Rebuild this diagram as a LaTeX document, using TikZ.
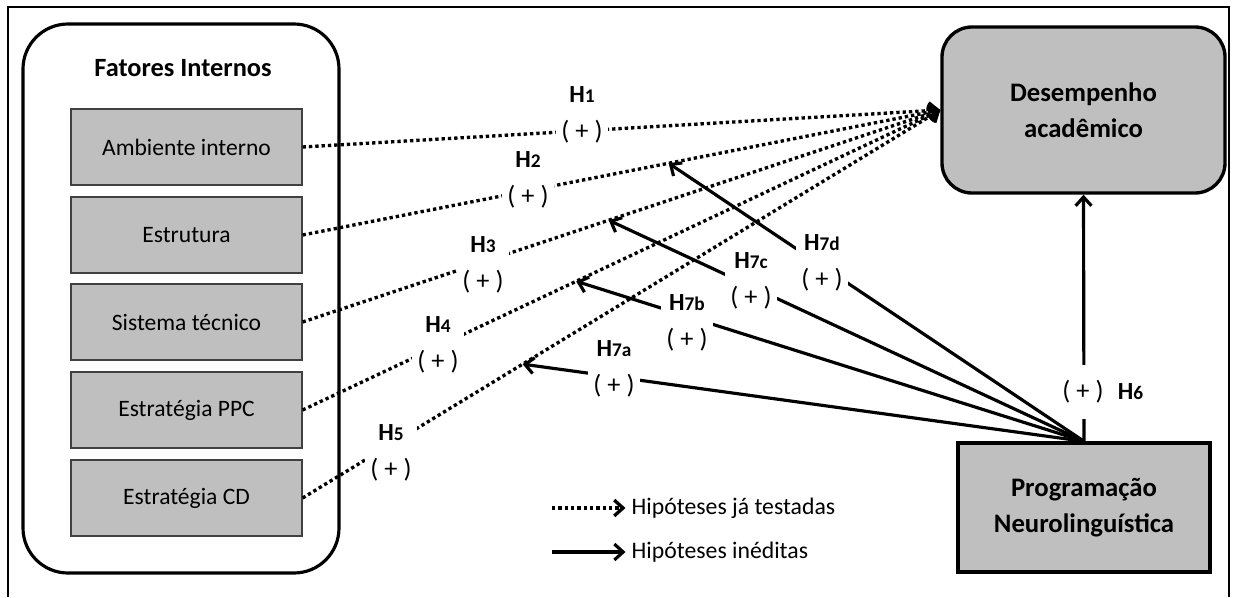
\documentclass[tikz,border=0pt]{standalone}
\usepackage{fontspec}
\setmainfont{Carlito}
\usepackage{tikz}
\usetikzlibrary{positioning,arrows.meta}

\definecolor{boxgray}{RGB}{191,191,191}
\newcommand{\hnum}[1]{\textbf{\fontsize{14}{16}\selectfont H{\fontsize{11}{11}\selectfont #1}}}
\newcommand{\hname}[1]{\hnum{#1}\\[4pt]( + )}

\begin{document}
\begin{tikzpicture}[>={Straight Barb[length=5pt,width=9pt]},
	factor/.style={rectangle,draw=black!75,line width=0.7pt,fill=boxgray,minimum width=4.62cm,minimum height=1.52cm,font=\fontsize{13.4}{15}\selectfont},
	construct/.style={rectangle,draw,line width=1.9pt,fill=boxgray,align=center,font=\bfseries\fontsize{15.2}{20.5}\selectfont},
	oldhyp/.style={->,line width=1.9pt,dash pattern=on 1.9pt off 1.7pt},
	newhyp/.style={->,line width=1.8pt},
	hlabel/.style={fill=white,inner sep=3pt,align=center,font=\fontsize{15}{17}\selectfont}]

	\useasboundingbox (0,0) rectangle (24.68,11.94);
	\draw[line width=0.9pt] (0.16,0) -- (0.16,11.8) -- (24.58,11.8) -- (24.58,0);

	% internal factors
	\node [draw,rounded corners=0.9cm,line width=1.8pt,minimum width=6.32cm,minimum height=10.98cm] (fi) at (3.62,5.97) {};
	\node [font=\bfseries\fontsize{15}{18}\selectfont] (fititle) at (3.66,10.58) {Fatores Internos};
	\node [factor] (f1) at (3.73,9.0) {Ambiente interno};
	\node [factor] (f2) at (3.73,7.24) {Estrutura};
	\node [factor] (f3) at (3.73,5.5) {Sistema técnico};
	\node [factor] (f4) at (3.73,3.74) {Estratégia PPC};
	\node [factor] (f5) at (3.73,1.98) {Estratégia CD};

	\node [construct,rounded corners=0.6cm,minimum width=5.66cm,minimum height=3.32cm] (des) at (21.67,9.74) {Desempenho\\acadêmico};
	\node [construct,minimum width=5.04cm,minimum height=2.58cm] (pnl) at (21.68,1.79) {Programação\\Neurolinguística};

	\draw[oldhyp] (f1.east) to (des.west);
	\draw[oldhyp] (f2.east) to coordinate[pos=0.574] (m2) (des.west);
	\draw[oldhyp] (f3.east) to coordinate[pos=0.48] (m3) (des.west);
	\draw[oldhyp] (f4.east) to coordinate[pos=0.429] (m4) (des.west);
	\draw[oldhyp] (f5.east) to coordinate[pos=0.345] (m5) (des.west);

	\draw[newhyp] (pnl.north) to (m5);
	\draw[newhyp] (pnl.north) to (m4);
	\draw[newhyp] (pnl.north) to (m3);
	\draw[newhyp] (pnl.north) to (m2);
	\draw[newhyp] (pnl.north) to (des.south);

	% hypothesis labels
	\node [hlabel] (h1) at (11.64,9.65) {\hname{1}};
	\node [hlabel] (h2) at (10.56,8.34) {\hname{2}};
	\node [hlabel] (h3) at (9.66,6.64) {\hname{3}};
	\node [hlabel] (h4) at (8.76,5.04) {\hname{4}};
	\node [hlabel] (h5) at (7.82,2.88) {\hname{5}};
	\node [hlabel] (h7a) at (12.28,4.56) {\hname{7a}};
	\node [hlabel] (h7b) at (13.74,5.48) {\hname{7b}};
	\node [hlabel] (h7c) at (15.02,6.32) {\hname{7c}};
	\node [hlabel] (h7d) at (16.44,6.68) {\hname{7d}};
	\node [hlabel,inner ysep=9pt] (h6) at (21.66,4.1) {( + )};
	\node [right=0.05cm of h6] (h6n) {\hnum{6}};

	% legend
	\node [anchor=west,font=\fontsize{13.5}{15}\selectfont] (lg1) at (12.51,1.78) {Hipóteses já testadas};
	\node [anchor=west,font=\fontsize{13.5}{15}\selectfont] (lg2) at (12.51,0.9) {Hipóteses inéditas};
	\coordinate (lg1s) at (11.04,1.78);
	\coordinate (lg2s) at (11.04,0.9);
	\draw[oldhyp] (lg1s) to (lg1);
	\draw[newhyp] (lg2s) to (lg2);

\end{tikzpicture}
\end{document}
